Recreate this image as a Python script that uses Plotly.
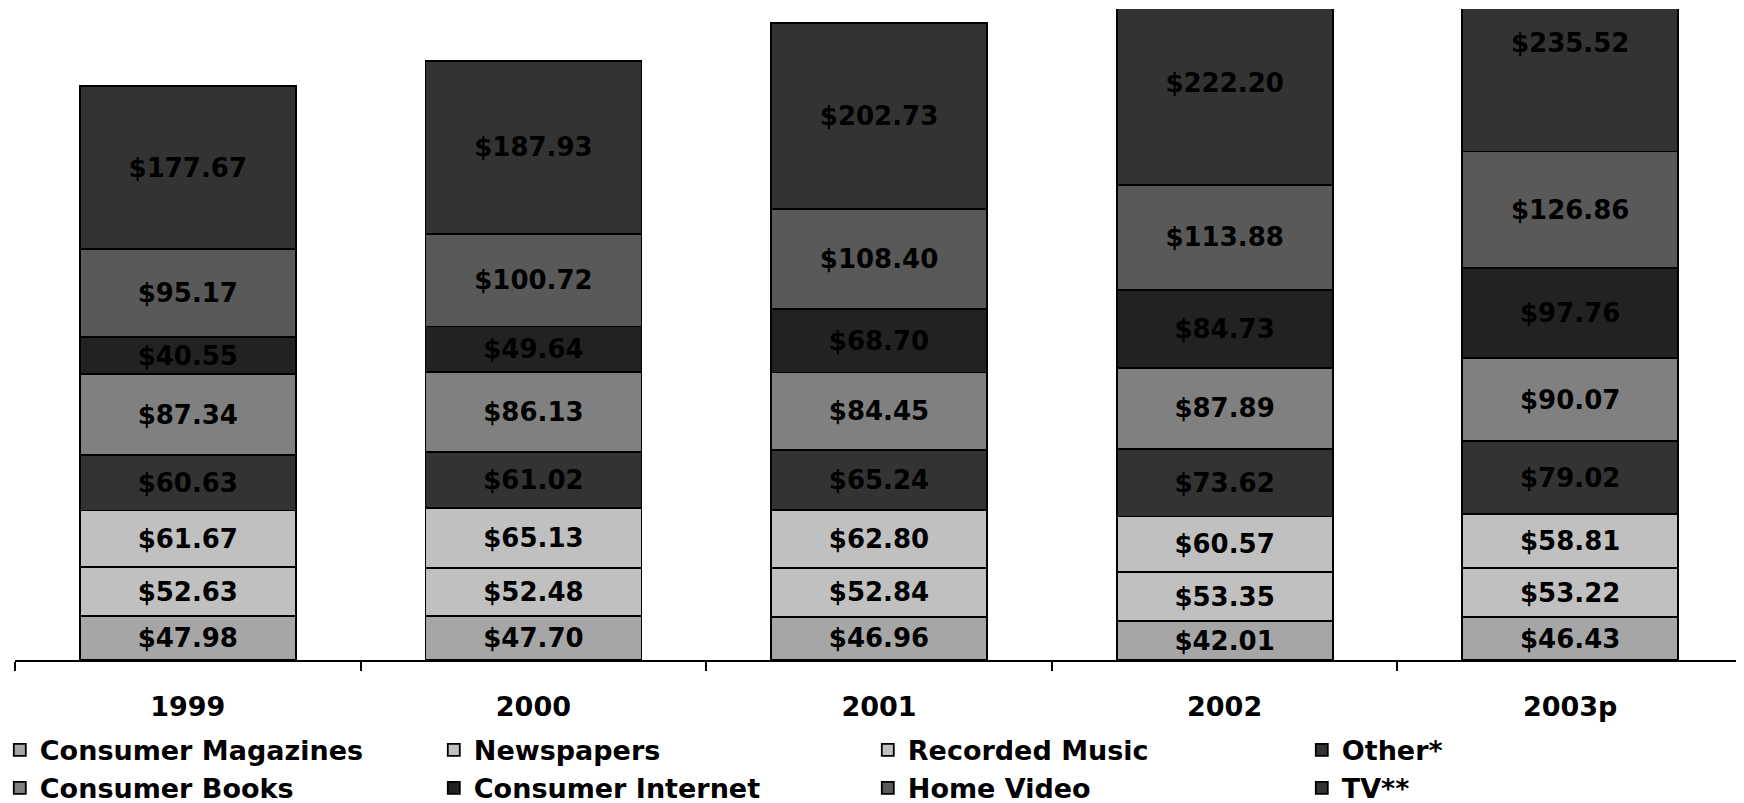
import plotly.graph_objects as go

years = ["1999", "2000", "2001", "2002", "2003p"]

series_names = ["Consumer Magazines", "Newspapers", "Recorded Music", "Other*",
                "Consumer Books", "Consumer Internet", "Home Video", "TV**"]

consumer_magazines = [47.98, 47.70, 46.96, 42.01, 46.43]
newspapers = [52.63, 52.48, 52.84, 53.35, 53.22]
recorded_music = [61.67, 65.13, 62.80, 60.57, 58.81]
other = [60.63, 61.02, 65.24, 73.62, 79.02]
consumer_books = [87.34, 86.13, 84.45, 87.89, 90.07]
consumer_internet = [40.55, 49.64, 68.70, 84.73, 97.76]
home_video = [95.17, 100.72, 108.40, 113.88, 126.86]
tv = [177.67, 187.93, 202.73, 222.20, 235.52]

series_values = [consumer_magazines, newspapers, recorded_music, other,
                 consumer_books, consumer_internet, home_video, tv]

colors = ["#a6a6a6", "#c0c0c0", "#c0c0c0", "#333333",
          "#808080", "#222222", "#595959", "#333333"]

FONT = "DejaVu Sans"

fig = go.Figure()
for name, vals, col in zip(series_names, series_values, colors):
    fig.add_trace(go.Bar(
        x=years, y=vals, name=name,
        marker=dict(color=col, line=dict(color="#000000", width=1.8)),
        text=[f"${v:.2f}" for v in vals],
        textposition="inside", insidetextanchor="middle",
        textangle=0,
        textfont=dict(family=FONT, size=26, color="#000000", weight="bold"),
        constraintext="none",
        cliponaxis=True,
    ))

fig.update_layout(
    width=1736, height=795,
    barmode="stack", bargap=0.375,
    plot_bgcolor="white", paper_bgcolor="white",
    margin=dict(l=7, r=1, t=1, b=143, autoexpand=False),
    uniformtext=dict(mode=False),
    showlegend=True,
    legend=dict(
        orientation="h", x=-0.0088, xanchor="left", y=-0.101, yanchor="top",
        traceorder="normal",
        entrywidth=389, entrywidthmode="pixels",
        font=dict(family=FONT, size=27, color="#000000", weight="bold"),
        bgcolor="rgba(0,0,0,0)",
    ),
    xaxis=dict(
        showline=True, linecolor="#000000", linewidth=2,
        ticks="outside", tickson="boundaries", ticklen=9, tickcolor="#000000", tickwidth=1.5,
        tickfont=dict(family=FONT, size=27, color="#000000", weight="bold"),
        ticklabelstandoff=22,
        showgrid=False, zeroline=False, automargin=False,
    ),
    yaxis=dict(
        range=[0, 707], visible=False, showgrid=False, zeroline=False,
    ),
)

fig.write_html("out.html")
